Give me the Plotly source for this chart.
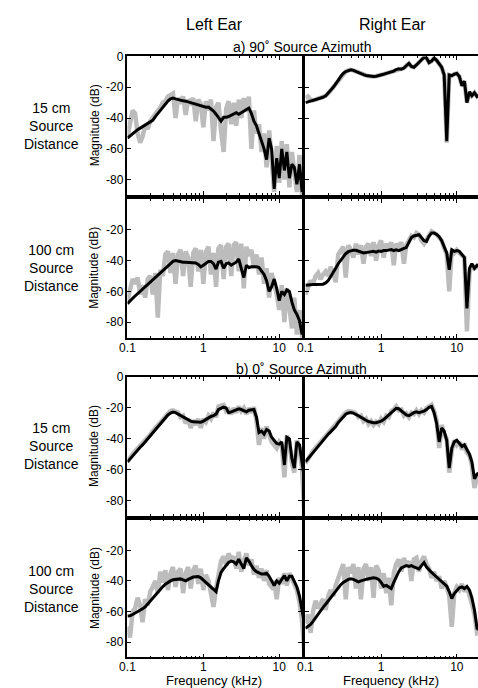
import plotly.graph_objects as go

W, H = 478, 688

# Frequency grid (kHz), 30 points per decade
FREQ_KHZ = [0.1, 0.108, 0.117, 0.126, 0.136, 0.147, 0.158, 0.171, 0.185, 0.2,
            0.215, 0.233, 0.251, 0.271, 0.293, 0.316, 0.341, 0.369, 0.398, 0.43,
            0.464, 0.501, 0.541, 0.585, 0.631, 0.681, 0.736, 0.794, 0.858, 0.926,
            1.0, 1.08, 1.17, 1.26, 1.36, 1.47, 1.58, 1.71, 1.85, 2.0,
            2.15, 2.33, 2.51, 2.71, 2.93, 3.16, 3.41, 3.69, 3.98, 4.3,
            4.64, 5.01, 5.41, 5.85, 6.31, 6.81, 7.36, 7.94, 8.58, 9.26,
            10.0, 10.8, 11.7, 12.6, 13.6, 14.7, 15.8, 17.1, 18.5, 20.0, 21.5]

# a) 90 deg azimuth, left ear, 15 cm
L90_15_BLACK = [-53, -51.5, -50, -48.8, -47.5, -46.5, -45.5, -44.5, -43.5, -42.5,
                -41.5, -39, -37, -34.5, -32.5, -30.5, -29, -27.5, -27, -27.5,
                -28, -28.5, -28.8, -29, -29.5, -30, -30.3, -30.8, -31.5, -32,
                -32.5, -33, -32.8, -34, -35.5, -37.5, -40, -42, -39.5, -39.5,
                -39, -38, -37, -36.5, -37.5, -36.5, -36, -35, -33.5, -37,
                -42, -45, -50, -55, -60, -67, -53, -60, -86, -66,
                -79, -60, -74, -62, -79, -70, -72, -83, -70, -88, -65]
L90_15_GRAY = [-52, -42, -35, -37, -50, -56, -52, -45, -47, -42,
               -40, -38, -36, -33, -30, -29, -26, -25, -24, -40,
               -27, -29, -26, -38, -28, -30, -27, -42, -28, -31,
               -46, -29, -35, -28, -55, -33, -30, -48, -62, -34,
               -29, -44, -30, -45, -28, -40, -27, -36, -26, -60,
               -35, -50, -44, -62, -50, -72, -48, -66, -88, -58,
               -82, -55, -80, -57, -85, -62, -78, -88, -64, -90, -70]

# a) 90 deg azimuth, right ear, 15 cm
R90_15_BLACK = [-30, -29.5, -29, -28.5, -28, -27.5, -27, -26.5, -25.5, -24,
                -22, -20, -18, -15.5, -13, -11, -9.8, -9, -8.6, -9,
                -9.8, -10.5, -11.2, -11.8, -12.3, -12.7, -13, -13, -12.8, -12.5,
                -12, -11.5, -11, -10.5, -10, -9.5, -8.5, -8, -8.2, -7.5,
                -6, -4.5, -6.5, -7, -5.5, -4, -2.5, -0.5, -1, -4,
                -3, -1, -2.5, -5, -7, -12, -55, -12, -12.5, -11.5,
                -11, -13, -19, -16, -30, -23, -25.5, -23.5, -26, -25, -26]
R90_15_GRAY = [-27, -26, -28, -28.5, -28, -27.5, -27, -26.5, -25.5, -24,
               -22, -20, -18, -15.5, -13, -11, -9.8, -9, -8.6, -9,
               -9.8, -10.5, -11.2, -11.8, -12.3, -12.7, -13, -13, -12.8, -12.5,
               -12, -11.5, -11, -10.5, -10, -9.5, -8.5, -8, -8.2, -7.5,
               -6, -4.5, -6.5, -7, -5.5, -4, -2.5, -0.5, -1, -4,
               -3, -1, -2.5, -5, -7, -12, -56, -12, -12.5, -11.5,
               -11, -13, -19, -16, -30, -23, -25.5, -23.5, -26, -25, -26]

# a) 90 deg azimuth, left ear, 100 cm
L90_100_BLACK = [-68, -66, -64.5, -63, -61.5, -60, -58.5, -57, -55.5, -54,
                 -52.5, -51, -49.5, -48, -46, -44.5, -43, -41.5, -40.5, -40,
                 -40.3, -41, -41, -41, -41.2, -41.5, -41.5, -41.5, -42.5, -44,
                 -43, -41.5, -40.5, -40.5, -42, -45.5, -41, -40.5, -45, -42,
                 -41.5, -43, -42, -41, -39, -45, -51, -43, -44.5, -44,
                 -44, -44, -44.5, -46.5, -49, -53, -60, -57, -52, -58,
                 -66, -60, -62, -59, -60, -67, -72, -75, -79, -88, -82]
L90_100_GRAY = [-66, -58, -52, -55, -51, -62, -56, -64, -52, -50,
                -62, -48, -77, -46, -50, -36, -34, -48, -35, -55,
                -36, -33, -50, -34, -38, -57, -35, -32, -47, -33,
                -55, -34, -31, -49, -35, -57, -32, -30, -52, -31,
                -29, -50, -30, -28, -47, -29, -58, -31, -37, -33,
                -45, -36, -49, -38, -55, -45, -64, -48, -55, -62,
                -72, -56, -80, -58, -70, -84, -64, -88, -72, -90, -85]

# a) 90 deg azimuth, right ear, 100 cm
R90_100_BLACK = [-56, -55.7, -55.5, -55.5, -55.5, -55.5, -55.5, -55.3, -54.5, -53,
                 -50.5, -48, -45, -42, -39.5, -37.5, -35.5, -34.2, -33.5, -33.2,
                 -33.3, -34, -34.5, -35, -34.8, -34.5, -34.3, -34, -34.5, -33.8,
                 -34, -33.5, -33.5, -33, -32.8, -33.5, -33, -33.5, -32.5, -32,
                 -31.5, -28, -25, -24, -23.5, -23.2, -25, -27, -27.5, -24,
                 -22, -22, -23, -24.5, -27, -31, -35, -46, -33, -34,
                 -33.5, -34, -36, -38, -71, -45, -42, -45, -43, -44, -44]
R90_100_GRAY = [-62, -58, -53, -55, -50, -48, -52, -49, -47, -50,
                -44, -48, -54, -36, -33, -31, -51, -30, -33, -38,
                -29, -36, -30, -42, -31, -29, -37, -28, -40, -30,
                -27, -38, -29, -33, -28, -43, -29, -32, -28, -42,
                -30, -26, -24, -25, -22, -23, -27, -29, -26, -23,
                -21, -22, -23, -25, -27, -32, -36, -60, -33, -35,
                -33, -35, -37, -38, -86, -48, -43, -45, -44, -43, -45]

# b) 0 deg azimuth, left ear, 15 cm
L0_15_BLACK = [-55, -53, -51, -49, -47, -45.5, -44, -42, -40, -38,
               -36, -34, -32, -30, -28, -26, -24.5, -23.3, -22.7, -23,
               -24, -25, -26, -27, -28, -28.5, -29, -29, -29.2, -29.2,
               -28.5, -27.5, -26, -25.5, -25, -24, -21, -20, -19.5, -20,
               -23, -22.5, -22, -21.5, -20.5, -21, -22, -22.5, -21.5, -21,
               -21, -26, -36, -35, -37, -34, -35, -39, -41, -43,
               -43.5, -42, -57, -39, -40, -53, -59, -42, -44, -56, -66]
L0_15_GRAY = [-55, -52, -50, -48, -46.5, -44, -43, -41, -39, -37.5,
              -35, -33, -31, -29, -27, -25, -23.5, -22, -21.5, -22,
              -23, -26, -25, -30, -27, -33, -28, -31, -27, -33,
              -27, -29, -25, -27, -23, -26, -19, -18.5, -18, -22,
              -21, -24, -20, -23, -19, -22, -20, -24, -20, -23,
              -19.5, -28, -44, -33, -40, -32, -38, -42, -44, -46,
              -42, -44, -65, -38, -42, -56, -62, -41, -46, -60, -90]

# b) 0 deg azimuth, right ear, 15 cm
R0_15_BLACK = [-55, -53, -51, -49, -47, -44.5, -42.5, -40.5, -38.5, -37,
               -35.5, -34, -32, -29.5, -27.5, -25.5, -24, -23.2, -23, -23.3,
               -24, -25, -26, -27.2, -28, -28.8, -29.4, -29.6, -29.6, -29.2,
               -28.5, -27.5, -26, -24.5, -23, -21.5, -20.2, -20.5, -22, -23.5,
               -24.5, -25, -24, -23, -22.5, -23, -22.5, -22, -21, -19.5,
               -19, -23, -30, -42, -33, -35, -41, -59, -46, -42,
               -41, -43, -45, -44, -47, -50, -55, -66, -63, -62, -64]
R0_15_GRAY = [-56, -53, -50.5, -48, -46, -44, -42, -40, -38, -36.5,
              -35, -33, -31, -29, -26.5, -24.5, -23, -22, -22, -22.5,
              -23.5, -26, -25, -28.5, -27, -30.5, -28.5, -31, -29, -30.5,
              -27, -29, -25, -26, -22, -21, -19, -21.5, -21, -25,
              -23.5, -26, -23, -24, -21.5, -24, -21.5, -23, -20, -18.5,
              -18, -22, -28, -46, -31, -37, -40, -62, -48, -41,
              -44, -42, -47, -43, -49, -51, -57, -72, -65, -64, -66]

# b) 0 deg azimuth, left ear, 100 cm
L0_100_BLACK = [-63, -62.8, -62, -61.2, -60.3, -59.5, -58.3, -57, -55, -53,
                -51, -49, -47, -45.3, -43.7, -42.2, -41, -40, -39.3, -39,
                -38.8, -38.7, -39.3, -40, -39, -38, -37.5, -37.3, -37.2, -38,
                -39.5, -41, -42.5, -44, -45.5, -47, -40, -34.5, -32, -29.5,
                -28, -27, -27.5, -29, -25.8, -29, -32, -25, -27, -30,
                -32.5, -34, -35, -35.5, -35.5, -35, -37, -40, -43, -40,
                -41.5, -39, -36.5, -40, -37, -37, -40, -44, -50, -60, -68]
L0_100_GRAY = [-70, -77, -60, -58, -51, -56, -67, -52, -56, -47,
               -44, -40, -48, -34, -41, -33, -46, -35, -31, -44,
               -34, -32, -48, -35, -31, -45, -33, -30, -42, -32,
               -46, -36, -40, -48, -57, -45, -35, -27, -24, -30,
               -22, -26, -24, -32, -21, -34, -27, -22, -30, -26,
               -36, -30, -38, -32, -40, -33, -42, -44, -40, -52,
               -38, -42, -35, -43, -35, -39, -42, -46, -54, -66, -88]

# b) 0 deg azimuth, right ear, 100 cm
R0_100_BLACK = [-71, -70, -68.5, -66.5, -64, -62, -59.5, -57.3, -55.3, -53,
                -51, -48.7, -46.5, -44.5, -42.5, -41, -39.8, -39, -38.7, -39,
                -39.8, -40.6, -40, -39.3, -39, -38.6, -38.3, -38, -38.2, -39,
                -41, -43.5, -43, -44, -45, -41, -37.5, -34, -31.5, -30.5,
                -30, -30.5, -30, -30.8, -31.5, -32.2, -30, -28, -31, -33,
                -34.5, -36, -37.5, -39, -40, -41.5, -43.5, -47, -51.5, -48.3,
                -46, -44.5, -44, -45, -43.6, -46, -51, -59, -71, -72, -73]
R0_100_GRAY = [-68, -62, -74, -60, -53, -58, -55, -52, -59, -50,
               -46, -50, -43, -38, -33, -29, -52, -31, -35, -29,
               -45, -31, -52, -32, -29, -40, -31, -51, -30, -33,
               -45, -35, -48, -38, -56, -35, -29, -26, -34, -25,
               -30, -27, -40, -26, -25, -34, -27, -24, -29, -32,
               -38, -34, -40, -37, -45, -40, -44, -50, -70, -48,
               -44, -46, -42, -47, -44, -49, -55, -62, -74, -73, -75]

PANELS = [
    (0, 0, L90_15_GRAY, L90_15_BLACK),
    (0, 1, R90_15_GRAY, R90_15_BLACK),
    (1, 0, L90_100_GRAY, L90_100_BLACK),
    (1, 1, R90_100_GRAY, R90_100_BLACK),
    (2, 0, L0_15_GRAY, L0_15_BLACK),
    (2, 1, R0_15_GRAY, R0_15_BLACK),
    (3, 0, L0_100_GRAY, L0_100_BLACK),
    (3, 1, R0_100_GRAY, R0_100_BLACK),
]

X_TICKS = [0.1, 1, 10]
X_TICK_TEXT = ["0.1", "1", "10"]
X_MINOR = [0.2, 0.3, 0.4, 0.5, 0.6, 0.7, 0.8, 0.9, 2, 3, 4, 5, 6, 7, 8, 9, 20]
Y_TICKS_FULL = [0, -20, -40, -60, -80]
Y_TICKS_PART = [-20, -40, -60, -80]

FONT = "Liberation Sans, Arial, sans-serif"

# layout geometry (pixels)
COL_X = [(121.5, 299.0), (302.5, 478.0)]
COL_RANGE = [(-1, 1.30), (-1, 1.28)]
ROW_Y = [(50, 190), (194, 334), (374, 514), (518, 657)]

fig = go.Figure()
layout = {}
for i, (r, c, gray, black) in enumerate(PANELS, start=1):
    xa = "x" if i == 1 else f"x{i}"
    ya = "y" if i == 1 else f"y{i}"
    fig.add_trace(go.Scatter(x=FREQ_KHZ, y=gray, xaxis=xa, yaxis=ya, mode="lines",
                             line=dict(color="#bcbcbc", width=4.5), hoverinfo="skip",
                             showlegend=False))
    fig.add_trace(go.Scatter(x=FREQ_KHZ, y=black, xaxis=xa, yaxis=ya, mode="lines",
                             line=dict(color="black", width=3), hoverinfo="skip",
                             showlegend=False))
    x0, x1 = COL_X[c]
    y0, y1 = ROW_Y[r]
    xkey = "xaxis" if i == 1 else f"xaxis{i}"
    ykey = "yaxis" if i == 1 else f"yaxis{i}"
    show_x = r in (1, 3)
    layout[xkey] = dict(
        type="log", domain=[x0 / W, x1 / W], range=list(COL_RANGE[c]), anchor=ya,
        showline=True, linecolor="black", linewidth=1.5, mirror="ticks",
        ticks="inside", ticklen=4, tickcolor="black", tickwidth=1,
        tickmode="array", tickvals=X_TICKS, ticktext=X_TICK_TEXT,
        showticklabels=show_x, ticklabelstandoff=-2,
        tickfont=dict(family=FONT, size=12, color="black"),
        minor=dict(ticks="inside", ticklen=2, tickcolor="black", tickvals=X_MINOR),
        showgrid=False, zeroline=False, fixedrange=True,
    )
    yt = Y_TICKS_FULL if r in (0, 2) else Y_TICKS_PART
    layout[ykey] = dict(
        domain=[1 - y1 / H, 1 - y0 / H], range=[-90, 0], anchor=xa,
        showline=True, linecolor="black", linewidth=1.5,
        mirror="ticks" if c == 0 else False,
        ticks="inside", ticklen=4, tickcolor="black", tickwidth=1,
        tickmode="array", tickvals=yt, ticktext=[str(v) for v in yt],
        showticklabels=(c == 0), tickfont=dict(family=FONT, size=12, color="black"),
        showgrid=False, zeroline=False, fixedrange=True,
    )

ann = []


def txt(x, y, s, size, angle=0):
    ann.append(dict(x=x / W, y=1 - y / H, xref="paper", yref="paper", text=s,
                    showarrow=False, xanchor="center", yanchor="middle", borderpad=0,
                    textangle=angle, font=dict(family=FONT, size=size, color="black")))


txt(210, 18, "Left Ear", 16)
txt(391, 18, "Right Ear", 16)
txt(300, 40, "a) 90˚ Source Azimuth", 14)
txt(299, 366, "b) 0˚ Source Azimuth", 14)
ROW_LABELS = ["15 cm<br>Source<br>Distance", "100 cm<br>Source<br>Distance",
              "15 cm<br>Source<br>Distance", "100 cm<br>Source<br>Distance"]
for (y0, y1), lab in zip(ROW_Y, ROW_LABELS):
    yc = (y0 + y1) / 2
    txt(44, yc, lab, 14)
    txt(88, yc, "Magnitude (dB)", 12, -90)
txt(210, 680, "Frequency (kHz)", 13)
txt(390, 680, "Frequency (kHz)", 13)

fig.update_layout(
    width=W, height=H, margin=dict(l=0, r=0, t=0, b=0),
    paper_bgcolor="white", plot_bgcolor="white",
    showlegend=False, hovermode=False, annotations=ann, **layout,
)

fig.write_html("out.html", config={"displayModeBar": False},
               post_script="document.body.style.margin='0';document.body.style.padding='0';")
